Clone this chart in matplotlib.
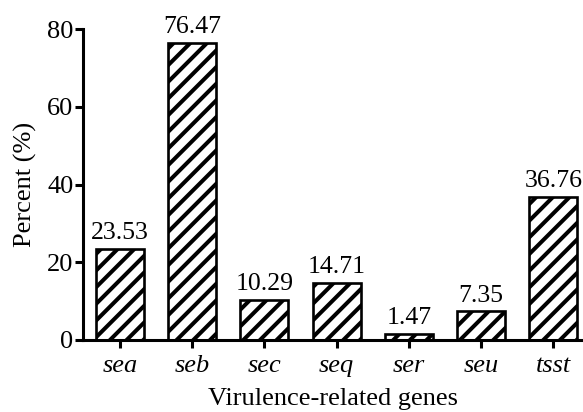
import matplotlib
matplotlib.use("Agg")
import matplotlib.pyplot as plt

genes = ["sea", "seb", "sec", "seq", "ser", "seu", "tsst"]
percent = [23.53, 76.47, 10.29, 14.71, 1.47, 7.35, 36.76]
y_ticks = [0, 20, 40, 60, 80]

plt.rcParams["font.family"] = ["Liberation Serif", "DejaVu Serif"]
plt.rcParams["hatch.linewidth"] = 2.9
plt.rcParams["hatch.color"] = "black"

fig = plt.figure(figsize=(5.83, 4.12), dpi=100)
ax = fig.add_axes([83 / 583, 1 - 340 / 412, 500 / 583, 311 / 412])

x = list(range(len(genes)))
ax.bar(x, percent, width=0.665, color="white", edgecolor="black",
       linewidth=1.9, hatch="//", zorder=2)

for xi, v in zip(x, percent):
    ax.annotate(f"{v:.2f}", (xi, v), xytext=(0, 3.5), textcoords="offset points",
                ha="center", va="bottom", fontsize=18.5, annotation_clip=False)

ax.set_xlim(-0.51, 6.41)
ax.set_ylim(0, 80)
ax.set_yticks(y_ticks)
ax.set_xticks(x)
ax.set_xticklabels(genes, fontstyle="italic")
ax.tick_params(axis="both", labelsize=19, width=2.2, length=6, direction="out")
ax.tick_params(axis="y", pad=1)
ax.tick_params(axis="x", pad=5)

for s in ["top", "right"]:
    ax.spines[s].set_visible(False)
for s in ["left", "bottom"]:
    ax.spines[s].set_linewidth(2.2)

ax.set_ylabel("Percent (%)", fontsize=19, labelpad=7)
ax.set_xlabel("Virulence-related genes", fontsize=19, labelpad=8)

fig.savefig("out.png", dpi=100)
